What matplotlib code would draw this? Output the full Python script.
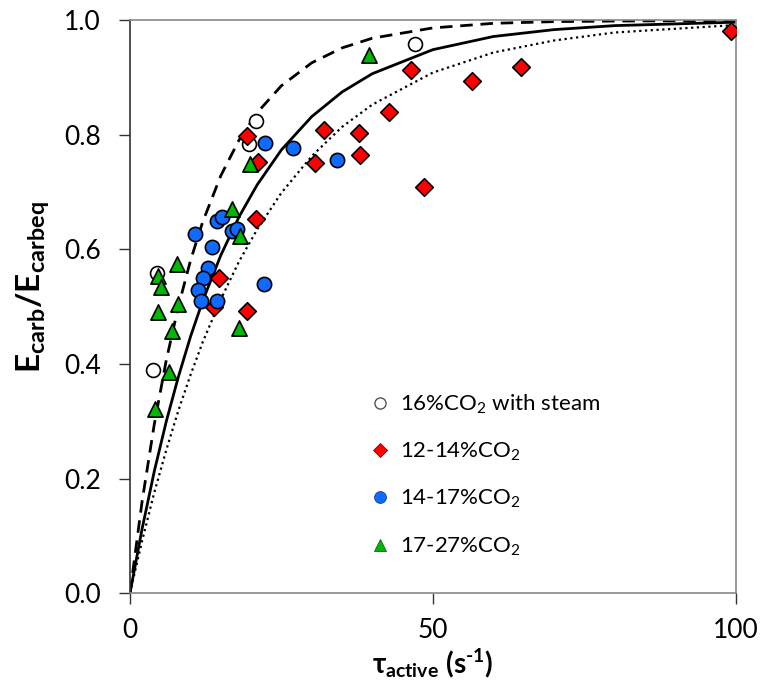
import numpy as np
import matplotlib
matplotlib.use("Agg")
import matplotlib.pyplot as plt
from matplotlib.lines import Line2D

plt.rcParams["font.family"] = ["Lato", "DejaVu Sans"]
plt.rcParams["mathtext.fontset"] = "custom"
plt.rcParams["mathtext.rm"] = "Lato"
plt.rcParams["mathtext.it"] = "Lato:italic"
plt.rcParams["mathtext.bf"] = "Lato:bold"

# measured points
steam_x = [20.8, 19.6, 4.5, 3.8, 47.0]
steam_y = [0.824, 0.784, 0.559, 0.390, 0.959]

red_x = [19.4, 21.1, 20.8, 14.7, 13.8, 19.4, 32.0, 37.8, 30.5, 37.9,
         42.8, 46.4, 56.5, 64.6, 48.6, 99.3]
red_y = [0.798, 0.753, 0.653, 0.551, 0.500, 0.493, 0.808, 0.803, 0.751, 0.765,
         0.840, 0.913, 0.895, 0.919, 0.709, 0.981]

blue_x = [14.3, 15.2, 10.7, 16.9, 17.6, 13.6, 12.9, 12.1, 11.2, 11.7,
          14.4, 22.1, 22.3, 26.9, 34.2]
blue_y = [0.650, 0.656, 0.627, 0.633, 0.635, 0.604, 0.567, 0.551, 0.530, 0.510,
          0.510, 0.540, 0.786, 0.777, 0.757]

green_x = [19.8, 16.9, 18.2, 7.7, 4.6, 5.1, 8.0, 4.6, 6.9, 18.0, 6.5, 4.2, 39.4]
green_y = [0.749, 0.671, 0.623, 0.575, 0.553, 0.534, 0.505, 0.491, 0.458, 0.463,
           0.386, 0.322, 0.940]

# model curves
curve_x = [0, 2, 4, 6, 8, 10, 12, 15, 18, 21, 25, 30, 35, 40, 50, 60, 70, 80, 100]
dashed_y = [0, 0.160, 0.294, 0.407, 0.501, 0.581, 0.648, 0.729, 0.791, 0.839,
            0.886, 0.926, 0.952, 0.969, 0.987, 0.995, 0.998, 0.999, 1.0]
solid_y = [0, 0.112, 0.212, 0.300, 0.378, 0.448, 0.510, 0.590, 0.657, 0.713,
           0.774, 0.832, 0.875, 0.907, 0.949, 0.972, 0.984, 0.991, 0.997]
dotted_y = [0, 0.091, 0.175, 0.250, 0.319, 0.381, 0.438, 0.513, 0.579, 0.635,
            0.699, 0.763, 0.814, 0.853, 0.909, 0.944, 0.965, 0.979, 0.992]

RED = "#FF0000"
BLUE = "#0F6BFF"
GREEN = "#00B800"

fig = plt.figure(figsize=(7.76, 6.94), dpi=100)
ax = fig.add_axes([0.1675, 0.1455, 0.7805, 0.825])

ax.plot(curve_x, dashed_y, color="black", lw=2.0, ls=(0, (4.5, 2.8)), zorder=2)
ax.plot(curve_x, solid_y, color="black", lw=2.0, zorder=2)
ax.plot(curve_x, dotted_y, color="black", lw=1.6, ls=(0, (1, 1.6)), zorder=2)

ax.scatter(steam_x, steam_y, s=100, marker="o", facecolor="white",
           edgecolor="black", linewidth=1.2, zorder=3)
ax.scatter(red_x, red_y, s=80, marker="D", facecolor=RED,
           edgecolor="black", linewidth=1.2, zorder=3)
ax.scatter(blue_x, blue_y, s=105, marker="o", facecolor=BLUE,
           edgecolor="black", linewidth=1.2, zorder=3)
ax.scatter(green_x, green_y, s=120, marker="^", facecolor=GREEN,
           edgecolor="black", linewidth=1.2, zorder=3)

ax.set_xlim(0, 100)
ax.set_ylim(0, 1.0)
ax.set_xticks([0, 50, 100])
ax.set_yticks(np.arange(0, 1.01, 0.2))
ax.set_yticklabels([f"{v:.1f}" for v in np.arange(0, 1.01, 0.2)])

for side in ["top", "right", "bottom"]:
    ax.spines[side].set_color("#888888")
    ax.spines[side].set_linewidth(1.2)
ax.spines["left"].set_color("#333333")
ax.spines["left"].set_linewidth(1.2)

ax.tick_params(axis="y", direction="out", length=8, width=1.0,
               color="#333333", labelsize=19, pad=13)
ax.tick_params(axis="x", direction="out", length=8, width=1.0,
               color="#333333", labelsize=19, pad=10)

ax.set_xlabel("$\\mathbf{\\tau_{active}\\ (s^{\u2010 1})}$", fontsize=20, labelpad=3)
ax.set_ylabel(r"$\mathbf{E_{carb}/E_{carbeq}}$", fontsize=24)
ax.yaxis.set_label_coords(-0.128, 0.535)

handles = [
    Line2D([], [], ls="none", marker="o", ms=8, mfc="white", mec="#555555", mew=1.0),
    Line2D([], [], ls="none", marker="D", ms=7, mfc=RED, mec="#8B0000", mew=0.6),
    Line2D([], [], ls="none", marker="o", ms=8.5, mfc=BLUE, mec="#1A3A80", mew=0.6),
    Line2D([], [], ls="none", marker="^", ms=9, mfc=GREEN, mec="#1A5A1A", mew=0.6),
]
labels = [r"16%CO$_2$ with steam", r"12-14%CO$_2$", r"14-17%CO$_2$", r"17-27%CO$_2$"]
ax.legend(handles, labels, loc="upper left", bbox_to_anchor=(0.38, 0.37),
          frameon=False, fontsize=16, handlelength=0.8, handletextpad=0.5,
          labelspacing=1.13, borderpad=0)

fig.savefig("out.png", dpi=100)
